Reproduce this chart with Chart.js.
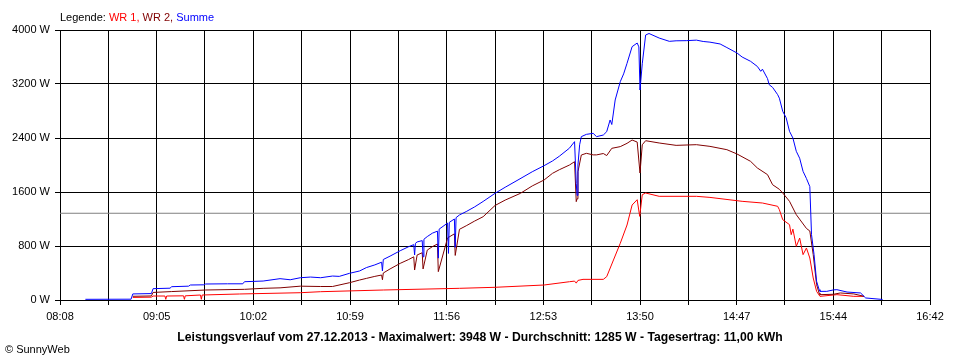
<!DOCTYPE html>
<html><head><meta charset="utf-8">
<script src="https://cdn.jsdelivr.net/npm/chart.js@4/dist/chart.umd.min.js"></script>
<style>
html,body{margin:0;padding:0;background:#fff;}
#wrap{position:relative;width:960px;height:360px;font-family:"Liberation Sans",Arial,sans-serif;font-size:11px;color:#000;}
canvas{position:absolute;left:0;top:0;}
#legend{position:absolute;left:60px;top:10px;line-height:14px;white-space:nowrap;}
#footer{position:absolute;left:0;width:960px;top:330px;text-align:center;font-weight:bold;font-size:12.2px;line-height:14px;white-space:nowrap;}
#copy{position:absolute;left:5px;top:342px;line-height:14px;}
</style></head><body>
<div id="wrap">
<canvas id="c" width="960" height="360"></canvas>
<div id="legend">Legende: <span style="color:#ff0000">WR 1,</span> <span style="color:#800000">WR 2,</span> <span style="color:#0000ff">Summe</span></div>
<div id="footer">Leistungsverlauf vom 27.12.2013 - Maximalwert: 3948 W - Durchschnitt: 1285 W - Tagesertrag: 11,00 kWh</div>
<div id="copy">© SunnyWeb</div>
</div>
<script>
// ---- data ----
const xTickLabels = ["08:08","09:05","10:02","10:59","11:56","12:53","13:50","14:47","15:44","16:42"];
const yTickValues = [0, 800, 1600, 2400, 3200, 4000];
const averageW = 1285;

const sumTimes = ["08:23","08:50","08:51","09:02","09:03","09:13","09:14","09:24","09:25","09:33","09:34","09:47","09:56","09:57","10:08","10:18","10:24","10:30","10:36","10:42","10:49","10:53","10:59","11:05","11:09","11:14","11:18","11:18:30","11:19","11:23","11:29","11:34","11:37","11:37:30","11:38","11:39","11:42","11:42:30","11:43","11:45","11:48","11:51","11:51:30","11:52","11:57","11:57:30","11:58","12:01","12:01:30","12:02","12:04","12:08","12:13","12:18","12:25","12:31","12:38","12:47","12:54","12:59","13:03","13:09","13:12","13:13","13:13:30","13:14","13:15","13:16","13:19","13:23","13:25","13:29","13:31","13:33","13:34","13:36","13:39","13:41","13:43","13:46","13:49","13:50","13:50:40","13:52","13:54","13:56","14:02","14:08","14:12","14:18","14:24","14:28","14:32","14:38","14:42","14:48","14:51","14:56","15:00","15:02","15:03","15:06","15:07","15:09","15:12","15:13","15:15","15:17","15:19","15:21","15:23","15:25","15:27","15:29","15:31","15:32","15:33:30","15:35","15:36:30","15:37","15:41","15:45","15:47","15:53","16:01","16:04","16:14"];
const sumValues = [10,12,90,95,168,175,197,205,222,225,237,240,240,271,281,316,300,330,340,330,355,350,395,430,480,520,560,430,600,650,730,790,820,667,840,860,880,640,900,940,990,1020,620,1050,1140,690,1150,1200,780,1220,1260,1310,1380,1460,1580,1670,1770,1900,1990,2060,2130,2250,2346,1728,1550,2000,2300,2420,2454,2469,2420,2444,2494,2667,2600,2963,3234,3350,3506,3753,3807,3750,3111,3500,3926,3948,3881,3832,3840,3842,3850,3830,3820,3793,3740,3659,3600,3536,3460,3388,3420,3280,3190,3150,3042,2990,2795,2700,2499,2400,2203,2100,1906,1800,1680,968,672,277,153,128,128,150,153,118,104,30,8];

const wr2Times = ["08:51","09:02","09:03","09:14","09:34","09:57","10:08","10:18","10:30","10:42","10:49","10:59","11:05","11:09","11:14","11:18","11:18:30","11:19","11:23","11:29","11:34","11:37","11:37:30","11:39","11:42","11:42:30","11:45","11:48","11:51","11:51:30","11:57","12:01","12:01:30","12:04","12:08","12:13","12:18","12:25","12:31","12:40","12:47","12:54","12:59","13:03","13:09","13:12","13:13","13:13:30","13:14","13:16","13:19","13:23","13:25","13:29","13:31","13:34","13:39","13:43","13:46","13:49","13:50:40","13:52","13:54","14:02","14:12","14:24","14:32","14:42","14:48","14:56","15:00","15:06","15:09","15:13","15:15","15:19","15:23","15:29","15:31","15:33","15:35","15:36:30","15:37","15:45","15:49","15:57","16:03"];
const wr2Values = [55,60,112,125,148,158,173,180,205,200,200,256,296,320,350,370,300,400,460,543,600,640,444,667,700,460,740,790,830,420,920,980,660,1047,1100,1170,1234,1400,1480,1580,1690,1778,1877,1930,2000,2049,1457,1500,1900,2148,2173,2150,2150,2170,2140,2247,2272,2321,2370,2340,1881,2300,2360,2326,2291,2301,2276,2227,2163,2054,1956,1857,1708,1640,1585,1462,1264,1060,1022,672,227,100,79,85,104,90,55];

const wr1Times = ["08:51","09:02","09:03","09:10","09:10:30","09:11","09:21","09:21:30","09:22","09:31","09:31:30","09:32","09:54","10:30","10:42","11:19","12:04","12:25","12:54","13:09","13:12","13:13","13:14","13:17","13:29","13:31","13:35","13:39","13:43","13:46","13:49","13:50:30","13:52","13:54","14:02","14:24","14:32","14:51","15:03","15:12","15:13","15:15","15:19","15:20","15:21","15:23","15:25","15:27","15:29","15:31","15:33","15:35","15:37","15:47","15:57","16:03"];
const wr1Values = [38,42,59,59,10,59,62,10,62,74,10,74,89,108,123,148,173,188,222,271,280,250,290,306,306,346,593,840,1111,1407,1486,1239,1560,1585,1536,1536,1520,1462,1437,1388,1338,1190,1116,968,1050,795,918,672,770,622,326,128,54,79,54,54];

// ---- helpers ----
function toMin(s){const p=s.split(':').map(Number);return p[0]*60+p[1]+(p[2]||0)/60;}
function pts(times, vals){return times.map((t,i)=>({x:toMin(t),y:vals[i]}));}
const xMin = toMin(xTickLabels[0]);
const xMax = toMin(xTickLabels[xTickLabels.length-1]);
const nGrid = (xTickLabels.length-1)*2;

const lineBase = {pointRadius:0, borderWidth:1, tension:0, fill:false, borderJoinStyle:'bevel'};
const font = {family:'"Liberation Sans", Arial, sans-serif', size:11};

new Chart(document.getElementById('c'), {
  type:'line',
  data:{datasets:[
    Object.assign({label:'Summe', data:pts(sumTimes,sumValues), borderColor:'#0000ff'}, lineBase),
    Object.assign({label:'WR 2', data:pts(wr2Times,wr2Values), borderColor:'#800000'}, lineBase),
    Object.assign({label:'WR 1', data:pts(wr1Times,wr1Values), borderColor:'#ff0000'}, lineBase),
    Object.assign({label:'Durchschnitt', data:[{x:xMin,y:averageW},{x:xMax,y:averageW}], borderColor:'#808080'}, lineBase)
  ]},
  options:{
    responsive:false, animation:false, devicePixelRatio:1,
    layout:{padding:{left:0, top:30, right:30, bottom:0}},
    plugins:{legend:{display:false}, tooltip:{enabled:false}, title:{display:false}},
    scales:{
      x:{type:'linear', min:xMin, max:xMax,
        afterBuildTicks:(axis)=>{const t=[];for(let i=0;i<=nGrid;i++){t.push({value:xMin+(xMax-xMin)*i/nGrid});}axis.ticks=t;},
        afterFit:(s)=>{s.height=60;},
        grid:{color:'#000', lineWidth:1, tickLength:5, drawTicks:true, tickColor:'#000'},
        border:{display:true, color:'#000', width:1},
        ticks:{autoSkip:false, maxRotation:0, minRotation:0, padding:5, color:'#000', font:font,
          callback:(v,i)=> (i%2===0 ? xTickLabels[i/2] : '')}
      },
      y:{type:'linear', min:yTickValues[0], max:yTickValues[yTickValues.length-1],
        afterBuildTicks:(axis)=>{axis.ticks=yTickValues.map(v=>({value:v}));},
        afterFit:(s)=>{s.width=60;},
        grid:{color:'#000', lineWidth:1, tickLength:5, drawTicks:true, tickColor:'#000'},
        border:{display:true, color:'#000', width:1},
        ticks:{padding:5, color:'#000', font:font, callback:(v)=> v+' W'}
      }
    }
  }
});
</script>
</body></html>
